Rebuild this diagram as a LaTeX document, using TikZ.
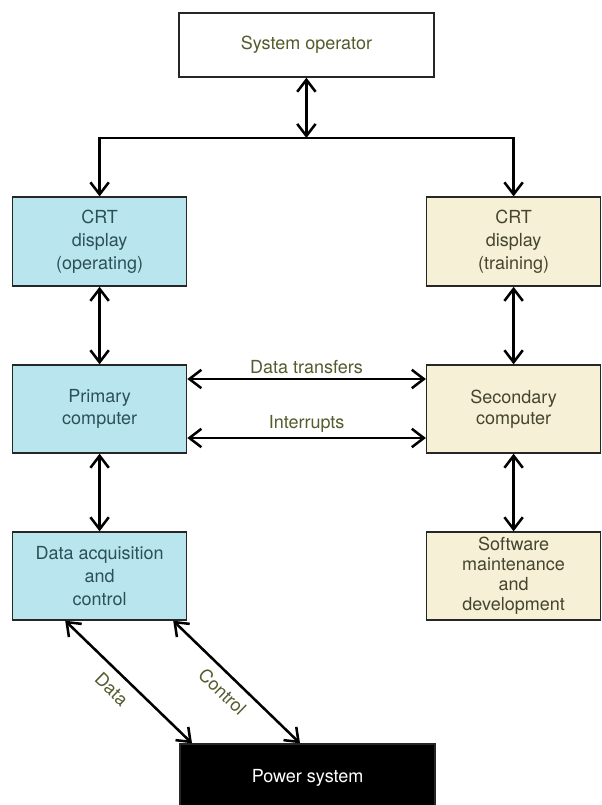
\documentclass[tikz,border=0pt]{standalone}
\usepackage{fontspec}
\setmainfont{TeX Gyre Heros}
\usetikzlibrary{arrows.meta}
\definecolor{livefill}{HTML}{B9E6EE}
\definecolor{trainfill}{HTML}{F6F1D6}
\definecolor{livetext}{HTML}{2B5058}
\definecolor{traintext}{HTML}{45442E}
\definecolor{lbltext}{HTML}{525C2C}
\tikzset{
  blk/.style={rectangle, draw=black!85, line width=1pt, align=center,
              minimum width=4.35cm, minimum height=2.2cm, inner sep=2pt,
              font=\fontsize{12.8}{16.3}\selectfont},
  livebox/.style={blk, fill=livefill, text=livetext},                 % operating side
  trainbox/.style={blk, fill=trainfill, text=traintext},              % training side
  opbox/.style={blk, fill=white, text=lbltext, minimum width=6.375cm, minimum height=1.6cm},
  pwrbox/.style={blk, fill=black, text=white, minimum width=6.375cm, minimum height=1.7cm},
  link/.style={draw=black, line width=1.8pt,
               {Straight Barb[length=3mm,width=4.6mm]}-{Straight Barb[length=3mm,width=4.6mm]}},
  feed/.style={draw=black, line width=1.8pt, -{Straight Barb[length=3mm,width=4.6mm]}},
  lbl/.style={font=\fontsize{12.8}{16.3}\selectfont, text=lbltext, inner sep=3pt},
}

\begin{document}
\begin{tikzpicture}
  \useasboundingbox (0,0) rectangle (15.025,-20.125);
  \node[opbox] (op) at (7.66,-1.125) {System operator};
  \node[livebox, minimum height=2.225cm] (crtL) at (2.49,-6.04) {CRT\\display\\(operating)};
  \node[trainbox, minimum height=2.225cm] (crtR) at (12.84,-6.04) {CRT\\display\\(training)};
  \node[livebox] (prim) at (2.49,-10.225) {Primary\\[-1pt]computer};
  \node[trainbox] (sec) at (12.84,-10.225) {Secondary\\[-1pt]computer};
  \node[livebox] (daq) at (2.49,-14.4) {Data acquisition\\and\\control};
  \node[trainbox, font=\fontsize{12.8}{14.3}\selectfont] (soft) at (12.84,-14.4)
    {Software\\maintenance\\and\\development};
  \node[pwrbox] (pwr) at (7.69,-19.45) {Power system};
  \coordinate (bus) at (7.66,-3.45);
  \draw[link] (op.south) -- (bus);
  \draw[feed] (bus) -| (crtL.north);
  \draw[feed] (bus) -| (crtR.north);
  \foreach \u/\v in {crtL/prim,prim/daq,crtR/sec,sec/soft} \draw[link] (\u.south)--(\v.north);
  \draw[link] ([yshift=0.75cm]prim.east) -- node[lbl, above] {Data transfers} ([yshift=0.75cm]sec.west);
  \draw[link] ([yshift=-0.725cm]prim.east) -- node[lbl, above] {Interrupts} ([yshift=-0.725cm]sec.west);
  \draw[link] ([xshift=-0.86cm]daq.south) -- node[lbl, pos=0.46, below, sloped, inner sep=6.5pt] {Data} ([xshift=-2.89cm]pwr.north);
  \draw[link] ([xshift=1.84cm]daq.south) -- node[lbl, pos=0.48, below, sloped, inner sep=6pt] {Control} ([xshift=-0.19cm]pwr.north);
\end{tikzpicture}
\end{document}
